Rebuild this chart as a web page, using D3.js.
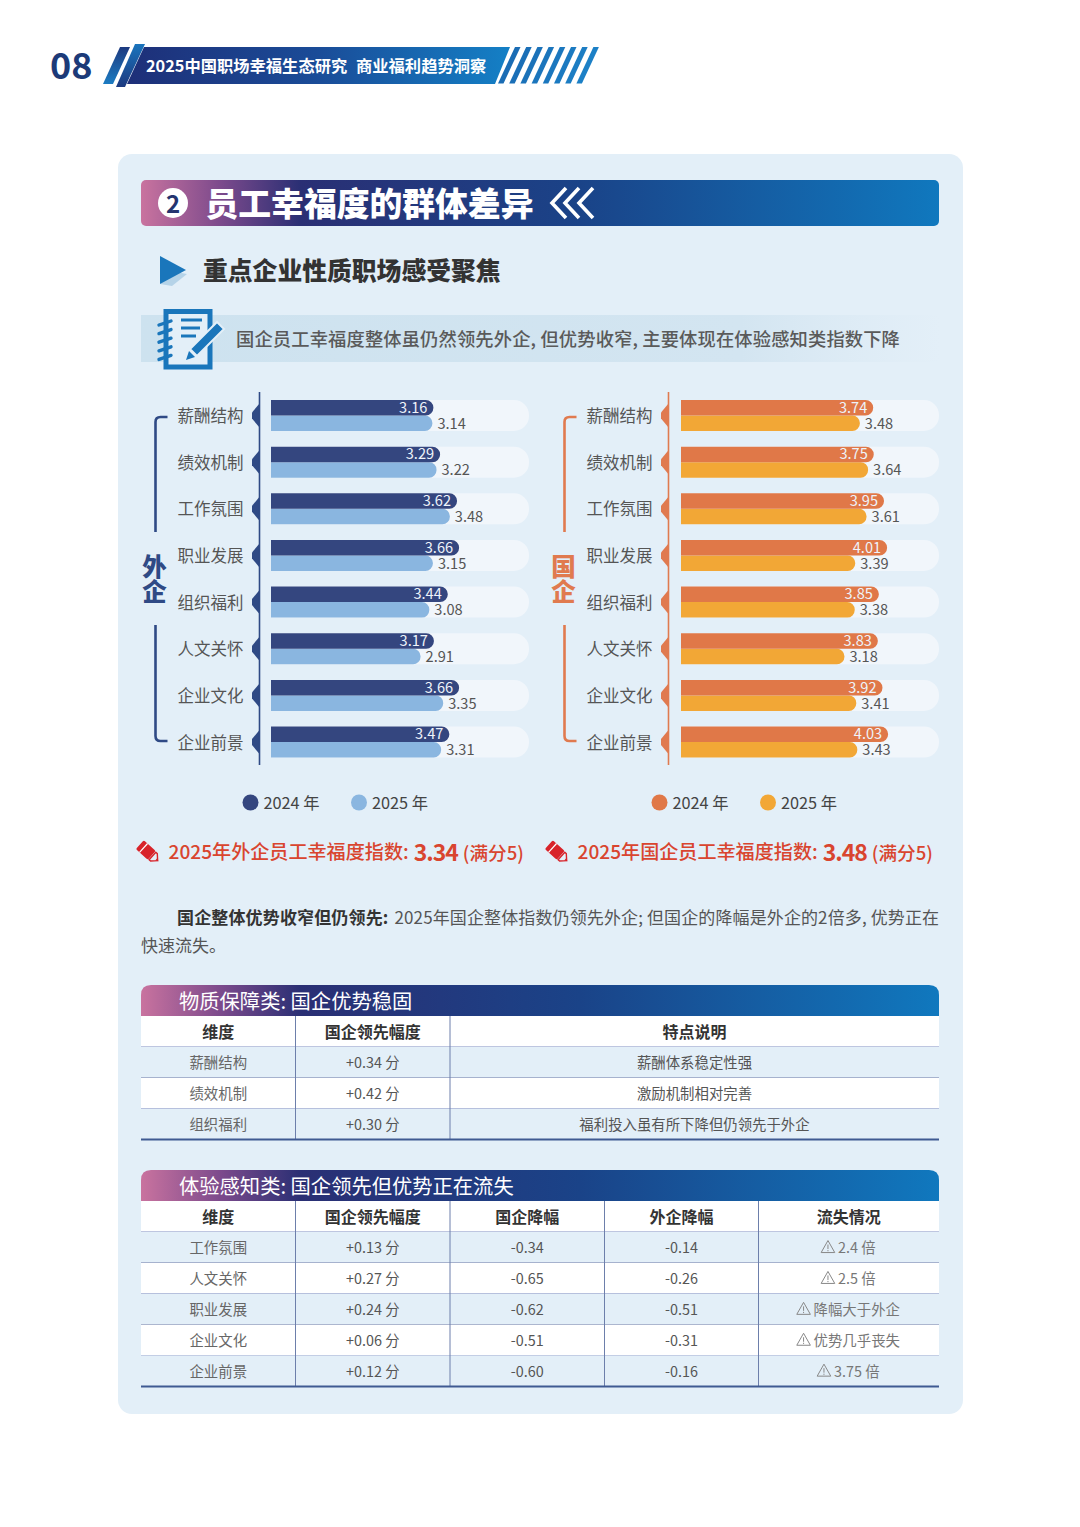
<!DOCTYPE html>
<html><head><meta charset="utf-8">
<script src="https://cdn.jsdelivr.net/npm/d3@7"></script>
<style>
html,body{margin:0;padding:0;background:#fff}
svg{display:block}
text{font-family:"Noto Sans CJK SC","Noto Sans",sans-serif}
</style></head><body><svg id="c" width="1080" height="1527"></svg>
<script>
const categories=["薪酬结构","绩效机制","工作氛围","职业发展","组织福利","人文关怀","企业文化","企业前景"];
const foreign2024=[3.16,3.29,3.62,3.66,3.44,3.17,3.66,3.47];
const foreign2025=[3.14,3.22,3.48,3.15,3.08,2.91,3.35,3.31];
const soe2024=[3.74,3.75,3.95,4.01,3.85,3.83,3.92,4.03];
const soe2025=[3.48,3.64,3.61,3.39,3.38,3.18,3.41,3.43];
const legendYears=["2024 年","2025 年"];

const table1Title="物质保障类: 国企优势稳固";
const table1Head=["维度","国企领先幅度","特点说明"];
const table1Rows=[
 ["薪酬结构","+0.34 分","薪酬体系稳定性强"],
 ["绩效机制","+0.42 分","激励机制相对完善"],
 ["组织福利","+0.30 分","福利投入虽有所下降但仍领先于外企"]];
const table2Title="体验感知类: 国企领先但优势正在流失";
const table2Head=["维度","国企领先幅度","国企降幅","外企降幅","流失情况"];
const table2Rows=[
 ["工作氛围","+0.13 分","-0.34","-0.14","2.4 倍"],
 ["人文关怀","+0.27 分","-0.65","-0.26","2.5 倍"],
 ["职业发展","+0.24 分","-0.62","-0.51","降幅大于外企"],
 ["企业文化","+0.06 分","-0.51","-0.31","优势几乎丧失"],
 ["企业前景","+0.12 分","-0.60","-0.16","3.75 倍"]];

const svg=d3.select("#c");
const defs=svg.append("defs");
function grad(id,stops,vertical){
  const g=defs.append("linearGradient").attr("id",id);
  if(vertical)g.attr("x1",0).attr("y1",0).attr("x2",0).attr("y2",1);
  stops.forEach(s=>g.append("stop").attr("offset",s[0]).attr("stop-color",s[1]).attr("stop-opacity",s[2]===undefined?1:s[2]));
}
grad("banner",[[0,"#1e2f78"],[.5,"#1a4c98"],[1,"#1480c6"]]);
grad("band",[[0,"#c9739f"],[.1,"#7c4a8c"],[.2,"#2a2f74"],[.55,"#1a4388"],[1,"#1078be"]]);
grad("note",[[0,"#cde2ef"],[.75,"#d3e5f1"],[1,"#d9e8f3",0]]);
grad("s1",[[0,"#1d3a80"],[1,"#1c7cc2"]],true);
grad("s2",[[0,"#1a74bc"],[1,"#1d3a80"]],true);
const DY=-1.4;
function T(x,y,s,o={}){
  const t=svg.append("text").attr("x",x).attr("y",y+DY).attr("dominant-baseline","central")
   .attr("font-size",o.size||16).attr("fill",o.fill||"#555").attr("text-anchor",o.anchor||"start")
   .attr("font-weight",o.weight||400).text(s);
  if(o.ls)t.attr("letter-spacing",o.ls);
  return t;
}
// header
T(50,64,"08",{size:36,fill:"#1c3a78",weight:700});
svg.append("path").attr("d","M144,47H510L495,84H127Z").attr("fill","url(#banner)");
svg.append("path").attr("d","M120,47H130L113,84H103Z").attr("fill","url(#s1)");
svg.append("path").attr("d","M135,44H145L125,87H116Z").attr("fill","url(#s2)");
d3.range(8).forEach(i=>{
  const x=515+i*11.2;
  svg.append("path").attr("d",`M${x},47h5.5l-17,36.5h-5.5Z`).attr("fill",d3.interpolateRgb("#1a6cb4","#1c80c6")(i/7));
});
T(146,66,"2025中国职场幸福生态研究",{size:16.3,fill:"#fff",weight:700});
T(356,66,"商业福利趋势洞察",{size:16.3,fill:"#fff",weight:700});

// panel
svg.append("rect").attr("x",118).attr("y",154).attr("width",845).attr("height",1260).attr("rx",14).attr("fill","#e3eff8");
// section band
svg.append("rect").attr("x",141).attr("y",180).attr("width",798).attr("height",46).attr("rx",5).attr("fill","url(#band)");
svg.append("circle").attr("cx",173).attr("cy",203).attr("r",15).attr("fill","#fff");
T(173,204,"2",{size:24,fill:"#24346f",weight:700,anchor:"middle"});
T(205.5,202.5,"员工幸福度的群体差异",{size:32.8,fill:"#fff",weight:900});
["M566,188L552,203L566,218","M579,188L565,203L579,218","M593,188L579,203L593,218"].forEach(d=>
 svg.append("path").attr("d",d).attr("fill","none").attr("stroke","#fff").attr("stroke-width",3.6));
// sub heading
svg.append("path").attr("d","M176,272L187,274L172,286L160,284Z").attr("fill","#b5d3e8");
svg.append("path").attr("d","M160,256L186,270L160,284Z").attr("fill","#1a76bb");
T(203,270.5,"重点企业性质职场感受聚焦",{size:24.8,fill:"#333",weight:900});
// note
svg.append("rect").attr("x",141).attr("y",315).attr("width",800).attr("height",47).attr("fill","url(#note)");
const nb="#1a76bb";
svg.append("path").attr("d","M166,311.5H210V367H166Z").attr("fill","#e3eff8").attr("stroke",nb).attr("stroke-width",5);
d3.range(5).forEach(i=>svg.append("path").attr("d",`M159,${325+i*8.6}L171,${321+i*8.6}`).attr("stroke",nb).attr("stroke-width",3.4).attr("stroke-linecap","round"));
[[181,202,320],[181,200,328],[181,196,336]].forEach(a=>svg.append("path").attr("d",`M${a[0]},${a[2]}H${a[1]}`).attr("stroke",nb).attr("stroke-width",3));
svg.append("path").attr("d","M217,322L224,329L197,356L190,349Z").attr("fill",nb).attr("stroke","#e3eff8").attr("stroke-width",2);
svg.append("path").attr("d","M189,351L195,357L186,360Z").attr("fill",nb);
T(236,339,"国企员工幸福度整体虽仍然领先外企, 但优势收窄, 主要体现在体验感知类指数下降",{size:18.3,fill:"#5a5a5a",ls:.13,weight:500});

// charts
function chart(o){
  const x=d3.scaleLinear().domain([0,5]).range([o.x0,o.x0+257]);
  const y=d3.scaleBand().domain(categories).range([400,757.55]).paddingInner(.3355).paddingOuter(0);
  const h=y.bandwidth();
  const g=svg.append("g");
  const rr=(x0,x1,top,ht,r)=>`M${x0},${top}H${x1-r}A${r},${r} 0 0 1 ${x1},${top+r}V${top+ht-r}A${r},${r} 0 0 1 ${x1-r},${top+ht}H${x0}Z`;
  g.selectAll(".track").data(categories).join("path")
   .attr("d",c=>rr(x.range()[0],x.range()[1]+1,y(c),h,15)).attr("fill","#f1f6fb");
  g.selectAll(".b25").data(categories).join("path")
   .attr("d",(c,i)=>rr(x(0),x(o.v25[i]),y(c)+h/2,h/2,7.5)).attr("fill",o.c25);
  g.selectAll(".b24").data(categories).join("path")
   .attr("d",(c,i)=>rr(x(0),x(o.v24[i]),y(c),h/2,7.75)).attr("fill",o.c24);
  categories.forEach((c,i)=>{
    const cy=y(c)+h/2;
    T(o.lx,cy+1,c,{size:16.5,fill:"#555",anchor:"end"});
    g.append("path").attr("d",`M${o.ax},${cy-12}L${o.ax-7.5},${cy-3}V${cy+3}L${o.ax},${cy+12}Z`).attr("fill",o.ac);
    T(x(o.v24[i])-6,y(c)+h/4,o.v24[i].toFixed(2),{size:14.6,fill:"#eef3fa",anchor:"end"});
    T(x(o.v25[i])+5,y(c)+h*3/4+.5,o.v25[i].toFixed(2),{size:14.6,fill:"#555"});
  });
  svg.append("path").attr("d",`M${o.ax},392V765`).attr("stroke",o.ac).attr("stroke-width",1.6);
  const b=o.ax-104;
  svg.append("path").attr("d",`M${b+12},417H${b+5}Q${b},417 ${b},422V532M${b},625V736Q${b},741 ${b+5},741H${b+12}`)
   .attr("fill","none").attr("stroke",o.ac).attr("stroke-width",2.6);
  T(b-1,567,o.name[0],{size:24.5,fill:o.ac,weight:900,anchor:"middle"});
  T(b-1,592,o.name[1],{size:24.5,fill:o.ac,weight:900,anchor:"middle"});
  // legend
  const lg=o.ax-9;
  [[lg,o.c24],[lg+108.5,o.c25]].forEach((a,i)=>{
    svg.append("circle").attr("cx",a[0]).attr("cy",802.5).attr("r",8).attr("fill",a[1]);
    T(a[0]+13,803,legendYears[i],{size:16.3,fill:"#444"});
  });
  // index line
  const ix=o.ax-111.5, red="#d9452f";
  const p=svg.append("g").attr("transform",`translate(${ix},852) rotate(42)`);
  p.append("rect").attr("x",-11).attr("y",-6).attr("width",16).attr("height",12).attr("rx",1.5).attr("fill","#d8232a");
  p.append("path").attr("d","M-6,-6V6").attr("stroke","#fff").attr("stroke-width",1.2);
  p.append("path").attr("d","M6,-5H8L13,0L8,5H6Z").attr("fill","none").attr("stroke","#d8232a").attr("stroke-width",1.4);
  p.append("path").attr("d","M11,-1.5L14,0L11,1.5Z").attr("fill","#d8232a");
  const t=T(o.ax-91,852,"",{size:19.1,fill:red,weight:500});
  t.append("tspan").text(o.idx);
  t.append("tspan").attr("dx",5).attr("font-size",23).attr("font-weight",700).attr("letter-spacing",-1).text(o.score);
  t.append("tspan").attr("dx",5).attr("font-size",18.6).text("(满分5)");
}
chart({x0:271,v24:foreign2024,v25:foreign2025,c24:"#34467f",c25:"#8ab6e0",ac:"#2f4a85",ax:259.5,lx:243.5,name:"外企",idx:"2025年外企员工幸福度指数:",score:"3.34"});
chart({x0:681,v24:soe2024,v25:soe2025,c24:"#e07848",c25:"#f2a736",ac:"#e07a4f",ax:668.5,lx:652.5,name:"国企",idx:"2025年国企员工幸福度指数:",score:"3.48"});

// paragraph
const pl=T(177,917,"",{size:17,fill:"#555"});
pl.append("tspan").attr("font-weight",700).attr("fill","#333").attr("letter-spacing",.15).text("国企整体优势收窄但仍领先:");
pl.append("tspan").attr("dx",6).attr("letter-spacing",.12).text("2025年国企整体指数仍领先外企; 但国企的降幅是外企的2倍多, 优势正在");
T(141,946,"快速流失。",{size:17,fill:"#555"});

// tables
function warn(g,x,y){
  g.append("path").attr("d",`M${x},${y-6.5}L${x+6.8},${y+5.5}H${x-6.8}Z`).attr("fill","none").attr("stroke","#888").attr("stroke-width",1).attr("stroke-linejoin","round");
  g.append("path").attr("d",`M${x},${y-2.5}V${y+2}M${x},${y+3}V${y+4.2}`).attr("stroke","#888").attr("stroke-width",1);
}
function table(o){
  const n=o.rows.length+1;
  const y=d3.scaleBand().domain(d3.range(n)).range([o.top,o.top+o.rh*n]);
  svg.append("path").attr("d",`M141,${o.top}V${o.top-21}Q141,${o.top-31} 151,${o.top-31}H929Q939,${o.top-31} 939,${o.top-21}V${o.top}Z`).attr("fill","url(#band)");
  T(179,o.top-15,o.title,{size:20.3,fill:"#fff"});
  const xs=o.cols;
  d3.range(n).forEach(i=>{
    svg.append("rect").attr("x",141).attr("y",y(i)).attr("width",798).attr("height",o.rh)
      .attr("fill",i%2==0?"#fff":"#e3eff8");
    const row=i==0?o.head:o.rows[i-1];
    row.forEach((s,j)=>{
      const cx=(xs[j]+xs[j+1])/2, cy=y(i)+o.rh/2+.7;
      if(i==0) T(cx,cy,s,{size:16,fill:"#333",weight:700,anchor:"middle"});
      else if(o.warn&&j==row.length-1){
        const t=T(cx+8,cy,s,{size:14.4,fill:"#777",anchor:"middle"});
        warn(svg,cx+8-t.node().getComputedTextLength()/2-10,cy-1);
      } else T(cx,cy,s,{size:14.4,fill:j==0?"#666":"#555",anchor:"middle"});
    });
    if(i<n-1) svg.append("path").attr("d",`M141,${y(i)+o.rh}H939`).attr("stroke",i%2==1?"#7585b0":"#a3acd2").attr("stroke-width",1.2);
  });
  xs.slice(1,-1).forEach(v=>svg.append("path").attr("d",`M${v},${o.top}V${o.top+o.rh*n}`).attr("stroke","#6d7fab").attr("stroke-width",1));
  svg.append("path").attr("d",`M141,${o.top+o.rh*n}H939`).attr("stroke","#3f5a92").attr("stroke-width",2);
}
table({title:table1Title,head:table1Head,rows:table1Rows,top:1016,rh:30.9,cols:[141,295.5,450,939]});
table({title:table2Title,head:table2Head,rows:table2Rows,top:1201,rh:30.9,cols:[141,295.5,450,604.5,758.5,939],warn:true});
</script></body></html>
